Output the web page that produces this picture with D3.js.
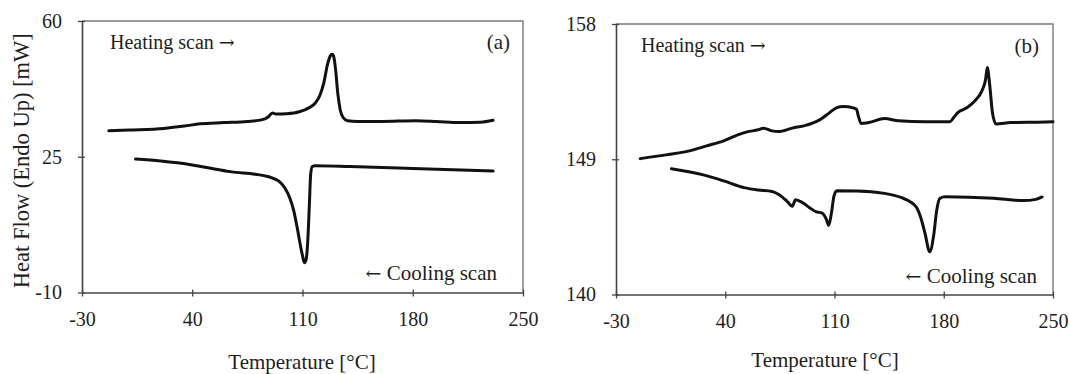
<!DOCTYPE html>
<html>
<head>
<meta charset="utf-8">
<script src="https://cdn.jsdelivr.net/npm/d3@7"></script>
<style>
  html, body { margin: 0; padding: 0; background: #fff; }
  svg { display: block; }
  text { font-family: "Liberation Serif", "Times New Roman", serif; fill: #1e1e1e; }
</style>
</head>
<body>
<svg id="chart" width="1069" height="374"></svg>
<script>
// Temperature axis shared by both DSC panels
const tempTicks = [-30, 40, 110, 180, 250];
const heatTicksA = [-10, 25, 60];
const heatTicksB = [140, 149, 158];

// Panel (a): [temperature °C, heat flow mW]
const heatingA = [
  [-13, 31.7], [0, 31.9], [22, 32.3], [35, 32.9], [45, 33.5], [60, 33.8], [75, 34.1],
  [84, 34.5], [88, 35.2], [91, 36.3], [93, 36.0], [100, 36.1], [108, 36.6], [114, 37.6],
  [118, 38.8], [121, 40.8], [123.5, 44], [126, 49], [128, 51.2], [129, 51.4], [130, 50.5],
  [131, 47.5], [132.5, 41], [134, 37], [136, 35], [138.5, 34.3], [145, 34.1], [160, 34.1],
  [182, 34.3], [195, 34.1], [210, 33.8], [223, 33.9], [231, 34.4]
];
const coolingA = [
  [4, 24.4], [20, 23.9], [40, 22.9], [55, 21.8], [65, 21.1], [80, 20.5], [88, 19.9],
  [95, 18.7], [99, 16.8], [102, 14.3], [104.5, 11], [106.5, 7], [108.5, 2.5], [110, -0.5],
  [111.2, -2.3], [112.3, -1.5], [113.3, 3], [114.3, 12], [115.2, 20.5], [116.2, 22.5],
  [118, 22.7], [140, 22.5], [180, 22], [231, 21.3]
];

// Panel (b)
const heatingB = [
  [-14.5, 149.04], [2, 149.29], [17, 149.56], [28, 149.89], [39, 150.22], [48, 150.62],
  [54, 150.82], [61, 150.96], [64.5, 151.07], [70, 150.89], [74, 150.84], [83, 151.07],
  [92, 151.27], [100.5, 151.62], [107, 152.11], [111.5, 152.44], [115.5, 152.51],
  [122, 152.42], [124, 152.33], [125.5, 151.8], [127, 151.38], [132, 151.44], [142, 151.71],
  [151, 151.56], [168, 151.49], [184, 151.5], [186.5, 151.8], [189, 152.1], [195, 152.44],
  [200, 152.89], [204.5, 153.56], [206.8, 154.3], [207.9, 155.1], [209.5, 153.9],
  [211.2, 152.1], [213.5, 151.35], [223, 151.44], [240, 151.47], [250, 151.49]
];
const coolingB = [
  [5.5, 148.37], [26, 147.96], [39, 147.56], [52, 147.11], [61, 146.95], [70, 146.86],
  [74, 146.67], [79.5, 146.22], [83, 145.88], [85, 146.3], [89.5, 146.11], [94, 145.78],
  [98, 145.51], [102, 145.42], [104.8, 145.0], [106.3, 144.6], [108, 145.4], [109.7, 146.56],
  [111.5, 146.9], [124, 146.89], [142, 146.73], [153, 146.44], [158, 146.2], [162.5, 145.8],
  [165, 145.2], [168, 144.06], [171, 142.84], [173.5, 143.9], [175.5, 145.6], [177.5, 146.4],
  [181, 146.5], [212, 146.4], [231, 146.25], [239, 146.33], [243, 146.49]
];

const panels = [
  {
    tag: "(a)", heating: heatingA, cooling: coolingA, yDomain: [-10, 60], yTicks: heatTicksA,
    left: 82, right: 523, top: 21, bottom: 292.5,
    yTitle: "Heat Flow (Endo Up) [mW]",
    heatLabel: [110, 49], tagPos: [510, 49], coolLabel: [497, 280], xTitle: [302, 369]
  },
  {
    tag: "(b)", heating: heatingB, cooling: coolingB, yDomain: [140, 158], yTicks: heatTicksB,
    left: 616, right: 1053, top: 24, bottom: 294.5,
    yTitle: null,
    heatLabel: [641, 52], tagPos: [1039, 53], coolLabel: [1037, 283], xTitle: [825, 367]
  }
];

const svg = d3.select("#chart");
const arrowFont = "DejaVu Serif, serif";

panels.forEach(p => {
  const x = d3.scaleLinear().domain([-30, 250]).range([p.left, p.right]);
  const y = d3.scaleLinear().domain(p.yDomain).range([p.bottom, p.top]);
  const g = svg.append("g");

  // light frame on the top and right sides
  g.append("path")
    .attr("d", `M${p.left},${p.top}H${p.right}V${p.bottom}`)
    .attr("fill", "none").attr("stroke", "#7a7a7a").attr("stroke-width", 1.4);

  const plain = d => String(d);
  const xAxis = g.append("g")
    .attr("transform", `translate(0,${p.bottom})`)
    .call(d3.axisBottom(x).tickValues(tempTicks).tickSize(4).tickSizeOuter(0).tickPadding(15)
      .tickFormat(plain));
  const yAxis = g.append("g")
    .attr("transform", `translate(${p.left},0)`)
    .call(d3.axisLeft(y).tickValues(p.yTicks).tickSize(4).tickSizeOuter(0).tickPadding(16)
      .tickFormat(plain));

  [xAxis, yAxis].forEach(ax => {
    ax.select(".domain").attr("stroke", "#444").attr("stroke-width", 1.6);
    ax.selectAll(".tick line").attr("stroke", "#444").attr("stroke-width", 1.3);
    ax.selectAll(".tick text")
      .attr("font-family", "Liberation Serif, serif").attr("font-size", 20).attr("fill", "#1e1e1e");
  });
  xAxis.selectAll(".tick line").attr("y1", -3);
  yAxis.selectAll(".tick line").attr("x1", 3);

  const line = d3.line().x(d => x(d[0])).y(d => y(d[1])).curve(d3.curveMonotoneX);
  [p.heating, p.cooling].forEach(series => {
    g.append("path").datum(series)
      .attr("d", line)
      .attr("fill", "none").attr("stroke", "#111").attr("stroke-width", 3)
      .attr("stroke-linejoin", "round").attr("stroke-linecap", "round");
  });

  const heat = g.append("text").attr("x", p.heatLabel[0]).attr("y", p.heatLabel[1])
    .attr("font-size", 20);
  heat.append("tspan").text("Heating scan ");
  heat.append("tspan").attr("font-family", arrowFont).attr("font-size", 19).text("\u2192");

  g.append("text").attr("x", p.tagPos[0]).attr("y", p.tagPos[1])
    .attr("font-size", 21).attr("text-anchor", "end").text(p.tag);

  const cool = g.append("text").attr("x", p.coolLabel[0]).attr("y", p.coolLabel[1])
    .attr("font-size", 21).attr("text-anchor", "end");
  cool.append("tspan").attr("font-family", arrowFont).attr("font-size", 19).text("\u2190");
  cool.append("tspan").text(" Cooling scan");

  g.append("text").attr("x", p.xTitle[0]).attr("y", p.xTitle[1])
    .attr("font-size", 21).attr("text-anchor", "middle").text("Temperature [\u00B0C]");

  if (p.yTitle) {
    g.append("text")
      .attr("transform", `translate(29,${(p.top + p.bottom) / 2 + 4}) rotate(-90)`)
      .attr("font-size", 22.5).attr("text-anchor", "middle").text(p.yTitle);
  }
});
</script>
</body>
</html>
